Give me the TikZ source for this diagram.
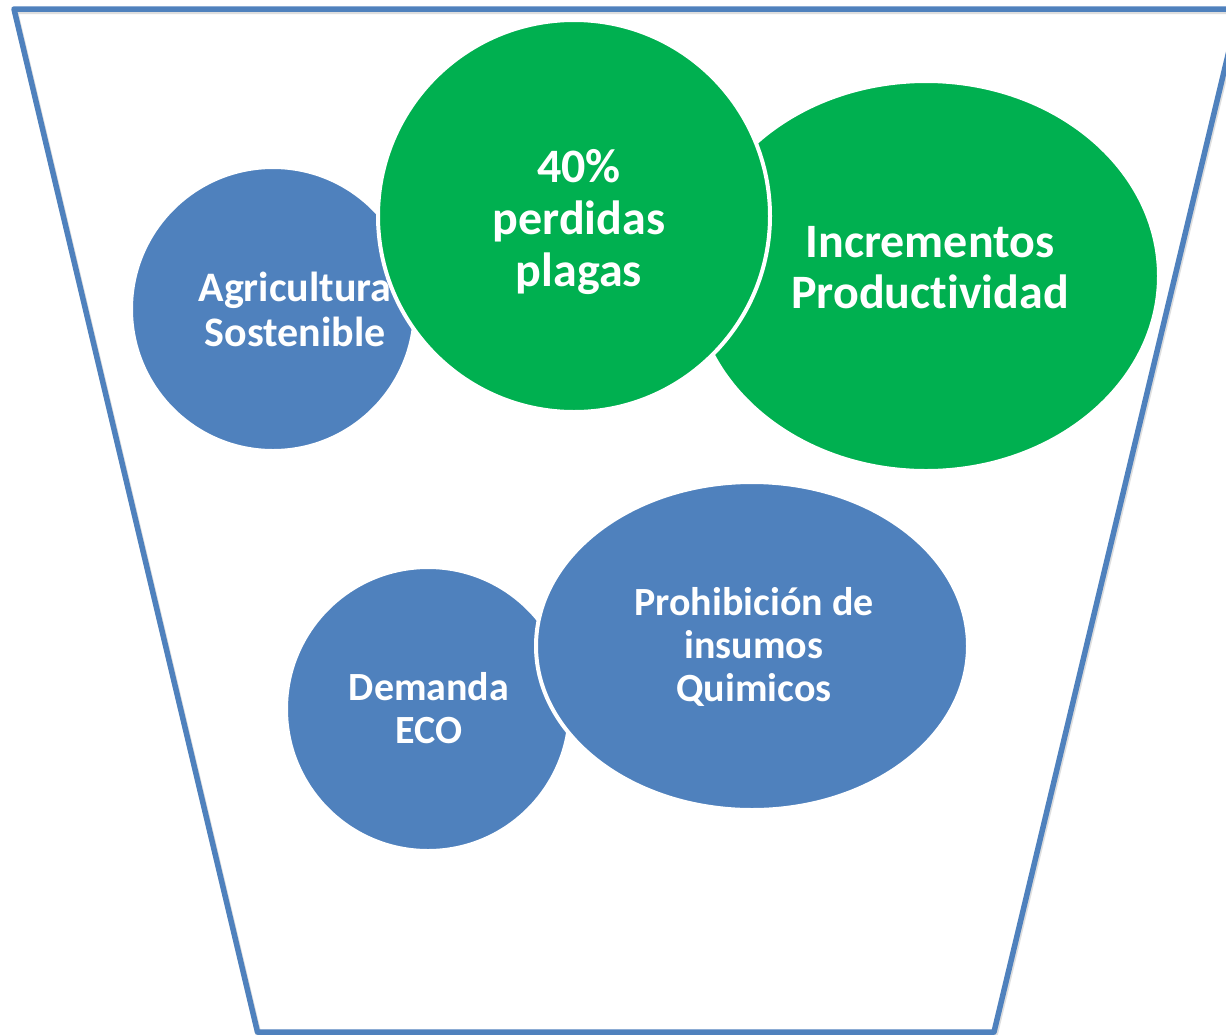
\documentclass[tikz,border=0pt]{standalone}
\usepackage{fontspec}
\setmainfont[Ligatures=NoCommon]{Carlito}
\usetikzlibrary{shapes.geometric}
\definecolor{fblue}{HTML}{4F81BD}
\definecolor{fgreen}{HTML}{00B050}
\tikzset{
  bubble/.style={draw=white, line width=4pt, inner sep=0pt},
  bubtext/.style={text=white, font=\bfseries, align=center, inner sep=0pt},
}
\begin{document}
\begin{tikzpicture}[x=1pt,y=-1pt]
\useasboundingbox (0,0) rectangle (1226,1034);
\fill[white] (0,0) rectangle (1226,1034);
% funnel
\coordinate (tl) at (14,9);
\coordinate (tr) at (1239,9);
\coordinate (br) at (994,1032);
\coordinate (bl) at (257.5,1032);
\draw[black!25, line width=6pt, line join=round, opacity=0.5, transform canvas={xshift=1pt,yshift=-2pt}] (tl) -- (tr) -- (br) -- (bl) -- cycle;
\draw[fblue, line width=5.5pt, line join=round] (tl) -- (tr) -- (br) -- (bl) -- cycle;
% Agricultura Sostenible
\node[bubble, circle, fill=fblue, minimum size=284pt] (agc) at (273,309) {};
\node[bubtext, font=\bfseries\fontsize{42}{45}\selectfont] (agt) at (295,309) {Agricultura\\Sostenible};
% Incrementos Productividad
\node[bubble, ellipse, fill=fgreen, minimum width=466pt, minimum height=390pt] (inc) at (926,276) {};
\node[bubtext, font=\bfseries\fontsize{48}{51}\selectfont] (inct) at (930,268) {Incrementos\\Productividad};
% 40% perdidas plagas
\node[bubble, circle, fill=fgreen, minimum size=392pt] (per) at (574,216) {};
\node[bubtext, font=\bfseries\fontsize{48}{52}\selectfont] (pert) at (579,222) {40\%\\perdidas\\plagas};
% Demanda ECO
\node[bubble, circle, fill=fblue, minimum size=284pt] (dem) at (428,709) {};
\node[bubtext, font=\bfseries\fontsize{40}{43}\selectfont] (demt) at (429,708) {Demanda\\ECO};
% Prohibicion
\node[bubble, ellipse, fill=fblue, minimum width=432pt, minimum height=328pt] (pro) at (752,646) {};
\node[bubtext, font=\bfseries\fontsize{40}{43}\selectfont] (prot) at (754,647) {Prohibición de\\insumos\\Quimicos};
\end{tikzpicture}
\end{document}
